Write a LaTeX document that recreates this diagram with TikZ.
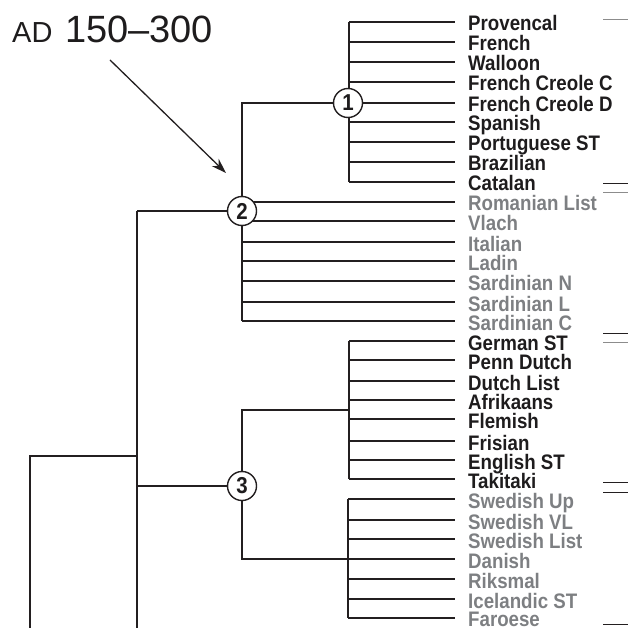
\documentclass[tikz,border=0pt]{standalone}
\usepackage{fontspec}
\setmainfont{Liberation Sans}
\newfontfamily\labfont[FakeStretch=0.89]{Liberation Sans}
\usetikzlibrary{arrows.meta}
\definecolor{linec}{RGB}{35,31,32}
\definecolor{txtblack}{RGB}{30,28,29}
\definecolor{txtgray}{RGB}{125,127,130}
\definecolor{rulegray}{RGB}{140,140,140}
\begin{document}
\begin{tikzpicture}[x=1pt,y=-1pt,
  br/.style={line width=1.4pt, draw=linec},
  lab/.style={anchor=base west, inner sep=0pt, font=\labfont\bfseries\fontsize{21}{21}\selectfont},
  blab/.style={lab, text=txtblack},
  glab/.style={lab, text=txtgray},
  numc/.style={circle, draw=linec, line width=1.4pt, fill=white, minimum size=29pt, inner sep=0pt,
    font=\labfont\bfseries\fontsize{23}{23}\selectfont, text=txtblack},
  edgerule/.style={line width=0.9pt}]
\useasboundingbox (0,0) rectangle (628,628);

% title
\node[anchor=base west, inner sep=0pt, font=\fontsize{29}{29}\selectfont, text=txtblack] (ad) at (12,43) {AD};
\node[anchor=base west, inner sep=0pt, font=\fontsize{38}{38}\selectfont, text=txtblack] (yrs) at (65,43) {150–300};
\coordinate (arrs) at (110,60);
\coordinate (arre) at (226,173);
\draw[line width=1.3pt, draw=linec, -{Stealth[length=15pt,width=10pt]}] (arrs) -- (arre);

% group 1 leaves (black)
\foreach \y/\t/\n in {22/Provencal/a,42/French/b,62/Walloon/c,82/French Creole C/d,103/French Creole D/e,122/Spanish/f,142/Portuguese ST/g,162/Brazilian/h,182/Catalan/i}{
  \coordinate (j1\n) at (349,\y);
  \coordinate (e1\n) at (455,\y);
  \draw[br] (j1\n) -- (e1\n);
  \node[blab] (t1\n) at (468,{\y+9}) {\t};
}
\draw[br] (j1a) -- (j1i);

% group 2 leaves (gray)
\foreach \y/\t/\n in {202/Romanian List/a,221/Vlach/b,242/Italian/c,261/Ladin/d,281/Sardinian N/e,302/Sardinian L/f,321/Sardinian C/g}{
  \coordinate (j2\n) at (242,\y);
  \coordinate (e2\n) at (455,\y);
  \draw[br] (j2\n) -- (e2\n);
  \node[glab] (t2\n) at (468,{\y+9}) {\t};
}

% group 3 leaves (black)
\foreach \y/\t/\n in {341/German ST/a,360/Penn Dutch/b,381/Dutch List/c,400/Afrikaans/d,419/Flemish/e,441/Frisian/f,460/English ST/g,479/Takitaki/h}{
  \coordinate (j3\n) at (349,\y);
  \coordinate (e3\n) at (455,\y);
  \draw[br] (j3\n) -- (e3\n);
  \node[blab] (t3\n) at (468,{\y+9}) {\t};
}
\draw[br] (j3a) -- (j3h);

% group 4 leaves (gray)
\foreach \y/\t/\n/\d in {499/Swedish Up/a/9,520/Swedish VL/b/9,539/Swedish List/c/9,559/Danish/d/9,579/Riksmal/e/9,599/Icelandic ST/f/9,618/Faroese/g/8}{
  \coordinate (j4\n) at (348,\y);
  \coordinate (e4\n) at (455,\y);
  \draw[br] (j4\n) -- (e4\n);
  \node[glab] (t4\n) at (468,{\y+\d}) {\t};
}
\draw[br] (j4a) -- (j4g);

% internal structure
\coordinate (c1pos) at (348,103);
\coordinate (c2pos) at (242,211);
\coordinate (c3pos) at (242,486);
\coordinate (k1) at (242,103);
\coordinate (k2) at (137,211);
\coordinate (k3) at (137,456);
\coordinate (k3b) at (137,486);
\coordinate (k0) at (30,456);
\coordinate (k0b) at (30,628);
\coordinate (k2b) at (137,628);
\coordinate (k4) at (242,410);
\coordinate (k5) at (349,410);
\coordinate (k6) at (242,559);

\draw[br] (c1pos) -- (k1) -- (j2g);
\draw[br] (k2) -- (c2pos);
\draw[br] (k2) -- (k2b);
\draw[br] (k0b) -- (k0) -- (k3);
\draw[br] (k3b) -- (c3pos);
\draw[br] (k5) -- (k4) -- (k6) -- (j4d);

\node[numc] (c1) at (c1pos) {1};
\node[numc] (c2) at (c2pos) {2};
\node[numc] (c3) at (c3pos) {3};

% right-edge rules
\coordinate (r0a) at (603,19);  \coordinate (r0b) at (628,19);
\coordinate (r1a) at (603,183); \coordinate (r1b) at (628,183);
\coordinate (r2a) at (603,192); \coordinate (r2b) at (628,192);
\coordinate (r3a) at (603,333); \coordinate (r3b) at (628,333);
\coordinate (r4a) at (603,342); \coordinate (r4b) at (628,342);
\coordinate (r5a) at (603,482); \coordinate (r5b) at (628,482);
\coordinate (r6a) at (603,492); \coordinate (r6b) at (628,492);
\coordinate (r7a) at (603,624); \coordinate (r7b) at (628,624);
\draw[edgerule, draw=rulegray] (r0a) -- (r0b);
\draw[edgerule, draw=linec] (r1a) -- (r1b);
\draw[edgerule, draw=rulegray] (r2a) -- (r2b);
\draw[edgerule, draw=linec] (r3a) -- (r3b);
\draw[edgerule, draw=rulegray] (r4a) -- (r4b);
\draw[edgerule, draw=linec] (r5a) -- (r5b);
\draw[edgerule, draw=linec] (r6a) -- (r6b);
\draw[edgerule, draw=linec] (r7a) -- (r7b);
\end{tikzpicture}
\end{document}
